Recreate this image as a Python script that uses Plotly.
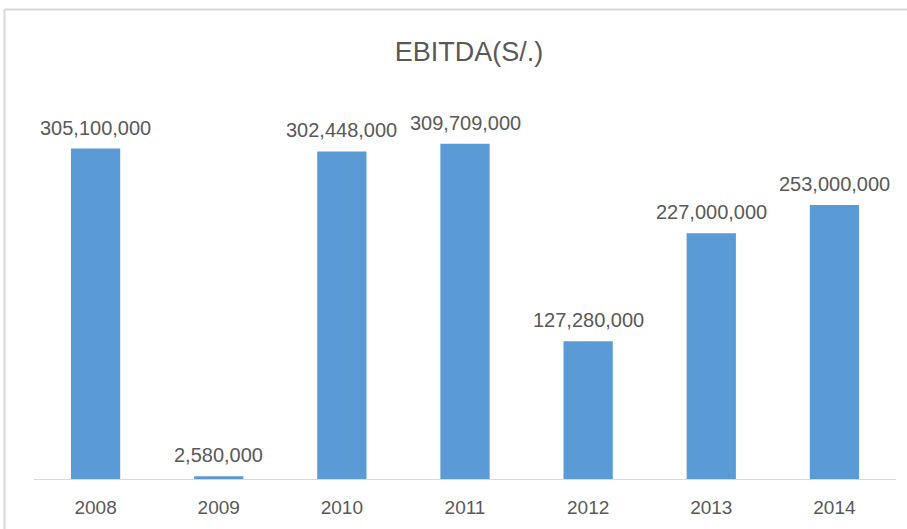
import plotly.graph_objects as go

# EBITDA by year, in soles
years = ["2008", "2009", "2010", "2011", "2012", "2013", "2014"]
ebitda = [305100000, 2580000, 302448000, 309709000, 127280000, 227000000, 253000000]

BAR_COLOR = "#5B9BD5"
TEXT_COLOR = "#595959"
LINE_COLOR = "#D9D9D9"
FONT = "Liberation Sans, Arial, sans-serif"

fig = go.Figure()
fig.add_trace(go.Bar(
    x=years,
    y=ebitda,
    marker=dict(color=BAR_COLOR, line=dict(width=0)),
    hoverinfo="x+y",
))

# value labels above each bar (x given as category index)
for i, val in enumerate(ebitda):
    fig.add_annotation(
        x=i, y=val, text=f"{val:,}", showarrow=False,
        yanchor="bottom", yshift=8,
        font=dict(family=FONT, size=20, color=TEXT_COLOR),
    )

W, H = 907, 529
# chart frame (top and left edges)
fig.add_shape(type="line", xref="paper", yref="paper",
              x0=-29.5 / 862, x1=1.2, y0=1 + (99 - 8.5) / 379, y1=1 + (99 - 8.5) / 379,
              line=dict(color=LINE_COLOR, width=2), layer="below")
fig.add_shape(type="line", xref="paper", yref="paper",
              x0=-29.5 / 862, x1=-29.5 / 862, y0=-0.2, y1=1 + (99 - 8.5) / 379,
              line=dict(color=LINE_COLOR, width=2), layer="below")

fig.update_layout(
    width=W, height=H,
    margin=dict(l=34, r=11, t=100, b=50, pad=0),
    paper_bgcolor="white", plot_bgcolor="white",
    bargap=0.6,
    showlegend=False,
    title=dict(
        text="EBITDA(S/.)",
        x=469 / W, xanchor="center", xref="container",
        y=1 - 52 / H, yanchor="middle", yref="container",
        font=dict(family=FONT, size=27, color=TEXT_COLOR),
    ),
    xaxis=dict(
        type="category", range=[-0.5, len(years) - 0.5],
        showline=True, linecolor=LINE_COLOR, linewidth=1,
        ticks="", showgrid=False, zeroline=False,
        tickfont=dict(family=FONT, size=19, color=TEXT_COLOR),
        ticklabelstandoff=11,
    ),
    yaxis=dict(
        range=[0, 350000000], visible=False, showgrid=False, zeroline=False,
    ),
)

fig.write_html("out.html")
